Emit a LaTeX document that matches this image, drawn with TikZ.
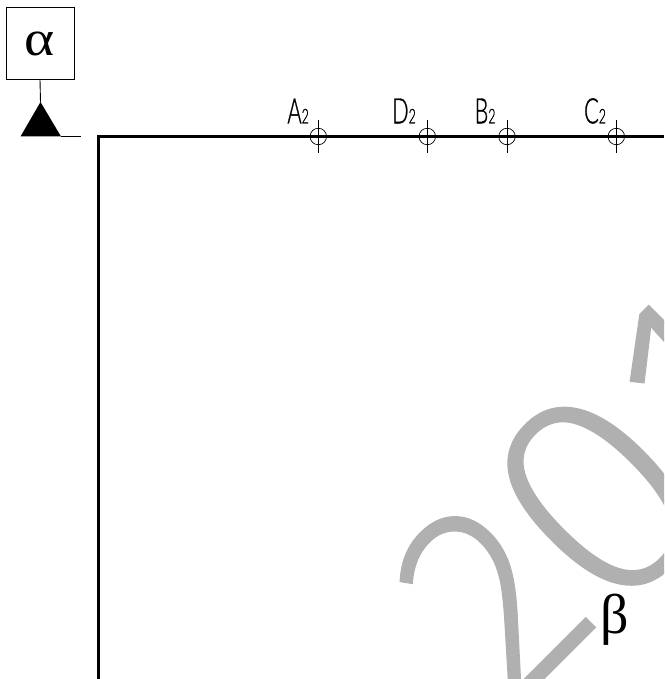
\documentclass[tikz,border=0pt]{standalone}
\usepackage{graphicx}
\usepackage{fontspec}
\setmainfont{Liberation Serif}
\newfontfamily\wmfont[FakeBold=1]{Open Sans Light}
\newfontfamily\lblfont[FakeBold=1.2]{Lato Light}
\tikzset{
  x=1pt,y=-1pt,
  thinline/.style={line width=0.9pt,black},
  mainline/.style={line width=3pt,black},
  station/.style={circle,draw,line width=0.7pt,minimum size=16.5pt,inner sep=0pt},
  tick/.style={line width=0.7pt,black},
  lbl/.style={inner sep=0pt,anchor=base west,xscale=0.62},
  symbolbox/.style={draw,line width=0.9pt,minimum width=68pt,minimum height=72pt,inner sep=0pt},
  wm/.style={inner sep=0pt,anchor=base west,rotate=45,text=wmgray},
}
\definecolor{wmgray}{HTML}{B0B0B0}
\begin{document}
\begin{tikzpicture}
\useasboundingbox (0,0) rectangle (664,679);
\begin{scope}
\clip (0,0) rectangle (664,679);
\node[wm] (mark) at (514,719) {\wmfont\fontsize{275}{275}\selectfont\raisebox{8pt}{\scalebox{0.88}[0.95]{2}}01};
\end{scope}
\coordinate (fa) at (98,679);
\coordinate (fb) at (98,136.5);
\coordinate (fc) at (664,136.5);
\draw[mainline,line join=miter] (fa) -- (fb) -- (fc);
\node[symbolbox] (alpha) at (40,43.5) {\raisebox{-6pt}{\scalebox{1.15}[1]{\fontsize{50}{50}\selectfont α}}};
\coordinate (apex) at (40.5,102);
\coordinate (tl) at (20.5,136.5);
\coordinate (tr) at (61,136.5);
\coordinate (stub) at (80.5,136.5);
\fill[black] (apex) -- (tl) -- (tr) -- cycle;
\draw[thinline] (alpha.south) -- (apex);
\draw[thinline] (tr) -- (stub);
\foreach \n/\x in {A/318.3,D/427.3,B/507,C/616.3}{
  \node[station] (s\n) at (\x,136.5) {};
  \coordinate (t\n) at (\x,120);
  \coordinate (b\n) at (\x,153.3);
  \draw[tick] (t\n) -- (b\n);
}
\foreach \n/\x in {A/287.3,D/392,B/474.5,C/584}{
  \node[lbl] (l\n) at (\x,123.3) {\lblfont\fontsize{35}{35}\selectfont \n\fontsize{20}{20}\selectfont 2};
}
\node[inner sep=0pt,anchor=base west] (beta) at (600,633) {\fontsize{56}{56}\selectfont β};
\end{tikzpicture}
\end{document}
